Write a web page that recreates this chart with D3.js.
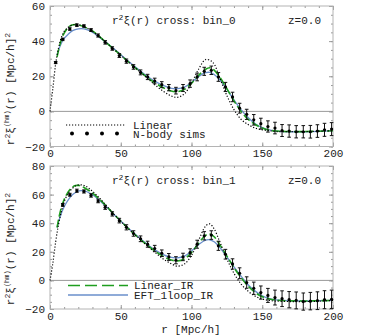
<!DOCTYPE html>
<html>
<head>
<meta charset="utf-8">
<script src="https://cdn.jsdelivr.net/npm/d3@7"></script>
<style>
  body { margin: 0; background: #fff; }
  text { font-family: "Liberation Mono", "DejaVu Sans Mono", monospace; fill: #222; }
</style>
</head>
<body>
<script>
// N-body measurements, bin_0 (r, value, error)
var bin0R = [4, 9, 14, 19, 24, 29, 34, 39, 44, 49, 54, 59, 64, 69, 74, 79, 84, 89, 94, 99,
             104, 109, 114, 119, 124, 129, 134, 139, 144, 149, 154, 159, 164, 169, 174, 179, 184, 189, 194, 199];
var bin0Sims = [27.8, 41, 46.9, 49.1, 48.6, 46.3, 43.2, 39.3, 35.8, 31.8, 28.6, 25.3, 22.2, 19.6, 17.3, 15.2, 13.5, 11.8, 13.3, 15.8,
                19.6, 22.8, 23.4, 19.6, 13.9, 8.2, 1.8, -1.7, -4.8, -7.0, -8.6, -9.5, -10.9, -11.2, -11.6, -11.6, -11.6, -11.2, -10.5, -10.1];
var bin0Err = [0.6, 0.7, 0.7, 0.7, 0.7, 0.8, 0.9, 1.0, 1.0, 1.1, 1.2, 1.3, 1.4, 1.5, 1.6, 1.7, 1.8, 1.9, 2.0, 2.1,
               2.2, 2.3, 2.4, 2.5, 2.6, 2.7, 2.8, 2.9, 3.0, 3.1, 3.2, 3.3, 3.4, 3.5, 3.5, 3.5, 3.6, 3.6, 3.7, 3.7];

// N-body measurements, bin_1
var bin1R = [9, 14, 19, 24, 29, 34, 39, 44, 49, 54, 59, 64, 69, 74, 79, 84, 89, 94, 99,
             104, 109, 114, 119, 124, 129, 134, 139, 144, 149, 154, 159, 164, 169, 174, 179, 184, 189, 194, 199];
var bin1Sims = [52.8, 59.9, 62.7, 62.2, 59.4, 55.6, 51.1, 46.5, 41.8, 37.1, 32.8, 29.1, 25.3, 22.3, 19.0, 16.4, 14.1, 16.4, 19.4,
                25.3, 31.2, 31.7, 24.2, 18.3, 11.5, 5.0, -1.5, -5.5, -8.5, -10.5, -12, -12.8, -13.5, -14, -14.8, -14.5, -14.2, -13.5, -13.2];
var bin1Err = [1.0, 1.0, 1.1, 1.1, 1.2, 1.3, 1.4, 1.5, 1.6, 1.8, 1.9, 2.0, 2.1, 2.2, 2.3, 2.4, 2.5, 2.6, 2.7,
               2.8, 2.9, 3.0, 3.2, 3.4, 3.6, 3.8, 4.0, 4.3, 4.6, 4.9, 5.2, 5.5, 5.7, 5.9, 6.0, 6.1, 6.2, 6.3, 6.4];

// model curves as [r, r^2 xi] pairs
var bin0Linear = [[0, 0], [2, 13], [4, 27], [6, 36], [8, 42], [10, 45.5], [14, 48.5], [18, 49.5], [22, 49], [26, 47.5],
  [30, 45.5], [35, 42.5], [40, 39], [45, 35.5], [50, 32], [55, 28.5], [60, 25], [65, 21.5], [70, 18], [75, 14.5],
  [80, 11.5], [85, 9], [90, 8], [95, 10], [100, 16], [105, 24], [110, 29.5], [115, 28], [120, 19], [125, 9],
  [130, 1], [135, -4.5], [140, -7.5], [145, -9.5], [150, -10.5], [155, -11], [160, -11.5], [170, -11.5], [180, -11.5], [190, -11.3], [200, -11]];
var bin0LinearIR = [[5, 31], [7, 38], [9, 43], [12, 47], [15, 49], [18, 49.5], [21, 49], [25, 47.8], [30, 45.8], [35, 42.6],
  [40, 39], [45, 35.5], [50, 32], [55, 28.5], [60, 25], [65, 21.7], [70, 18.5], [75, 15.8], [80, 13.5], [85, 11.8],
  [90, 11.2], [95, 12.5], [100, 16], [105, 20.5], [110, 24], [113, 24.8], [116, 23.5], [120, 19.5], [125, 13], [130, 6],
  [135, 0], [140, -4.5], [145, -7.5], [150, -9.5], [155, -10.7], [160, -11.2], [170, -11.5], [180, -11.5], [190, -11.3], [200, -11]];
var bin0Eft = [[5, 32], [7, 37], [10, 41.5], [13, 44], [16, 46], [20, 47], [24, 47], [28, 46], [32, 44], [36, 41.5],
  [40, 39], [45, 35.8], [50, 32.3], [55, 28.8], [60, 25.5], [65, 22.3], [70, 19.3], [75, 16.8], [80, 14.8], [85, 13.3],
  [90, 12.9], [95, 13.8], [100, 16.5], [105, 19.8], [110, 22], [113, 22.2], [116, 21], [120, 18], [125, 12.5], [130, 6.5],
  [135, 1], [140, -3.5], [145, -7], [150, -9.2], [155, -10.5], [160, -11.2], [170, -11.6], [180, -11.6], [190, -11.4], [200, -11]];

var bin1Linear = [[0, 0], [2, 12], [4, 27], [6, 39], [8, 48], [10, 55], [13, 61], [16, 64.5], [19, 66.5], [22, 66.8],
  [25, 66], [28, 64], [32, 60.5], [36, 56.5], [40, 52], [45, 46.5], [50, 41.5], [55, 36.5], [60, 32], [65, 27.5],
  [70, 23], [75, 19], [80, 15], [85, 12], [90, 10], [95, 11.5], [100, 17.5], [105, 28], [110, 38], [113, 39.5],
  [116, 36], [120, 27], [125, 15], [130, 5], [135, -2.5], [140, -7.5], [145, -11], [150, -13], [155, -14], [160, -14.5],
  [170, -14.8], [180, -14.8], [190, -14.5], [200, -14]];
var bin1LinearIR = [[5, 37], [7, 47], [9, 54], [12, 60.5], [15, 64.5], [18, 66.3], [21, 66.3], [24, 65], [28, 62.5], [32, 59.5],
  [36, 55.8], [40, 51.8], [45, 46.5], [50, 41.5], [55, 36.5], [60, 32], [65, 27.7], [70, 23.7], [75, 20], [80, 16.8],
  [85, 14.5], [90, 13.6], [95, 15], [100, 19.5], [105, 26], [110, 31.5], [113, 32.4], [116, 30.5], [120, 25], [125, 17],
  [130, 9], [135, 2], [140, -4], [145, -8.5], [150, -11.5], [155, -13], [160, -13.8], [170, -14.3], [180, -14.4], [190, -14.2], [200, -14]];
var bin1Eft = [[5, 37], [7, 44], [10, 51.5], [13, 56.5], [16, 60], [19, 62], [22, 62.8], [25, 62.4], [28, 61], [32, 58.5],
  [36, 55], [40, 51.3], [45, 46.3], [50, 41.5], [55, 36.8], [60, 32.4], [65, 28.2], [70, 24.3], [75, 20.8], [80, 18],
  [85, 16.2], [90, 15.8], [95, 17], [100, 20.5], [105, 25], [110, 28.2], [113, 28.4], [116, 27], [120, 23], [125, 16.5],
  [130, 9.5], [135, 3], [140, -3], [145, -7.5], [150, -10.8], [155, -12.7], [160, -13.6], [170, -14.2], [180, -14.4], [190, -14.2], [200, -14]];

var xTicks = [0, 50, 100, 150, 200];
var bin0YTicks = [-20, 0, 20, 40, 60];
var bin1YTicks = [-20, 0, 20, 40, 60, 80];

var green = "#1f9e1f", blue = "#6a8fcb", frameColor = "#b4b4b4";

var svg = d3.select("body").append("svg")
    .attr("width", 366)
    .attr("height", 336);

var x = d3.scaleLinear().domain([0, 200]).range([50, 333]);

function drawPanel(cfg) {
  var y = d3.scaleLinear().domain(cfg.yDomain).range(cfg.yRange);
  var g = svg.append("g");
  var top = cfg.yRange[1], bottom = cfg.yRange[0];

  // minor ticks on all sides
  var xMinor = d3.range(0, 201, 10), yMinor = d3.range(cfg.yDomain[0], cfg.yDomain[1] + 1, 5);
  [[d3.axisBottom(x).tickValues(xMinor), bottom, 0, -2], [d3.axisTop(x).tickValues(xMinor), top, 0, -2],
   [d3.axisLeft(y).tickValues(yMinor), 0, 50, -2], [d3.axisRight(y).tickValues(yMinor), 0, 333, -2],
   [d3.axisTop(x).tickValues(xTicks), top, 0, -4], [d3.axisRight(y).tickValues(cfg.yTicks), 0, 333, -4]]
    .forEach(function(a) {
      g.append("g")
          .attr("transform", "translate(" + a[2] + "," + a[1] + ")")
          .call(a[0].tickSize(a[3]).tickFormat(""))
          .call(function(s) { s.select(".domain").remove(); s.selectAll("line").attr("stroke", "#999"); });
    });

  // labelled axes
  g.append("g")
      .attr("transform", "translate(0," + bottom + ")")
      .call(d3.axisBottom(x).tickValues(xTicks).tickSize(-4).tickPadding(3))
      .call(function(s) {
        s.select(".domain").remove();
        s.selectAll("line").attr("stroke", "#999");
        s.selectAll("text").style("font-size", "11px").attr("fill", "#222");
      });
  g.append("g")
      .attr("transform", "translate(50,0)")
      .call(d3.axisLeft(y).tickValues(cfg.yTicks).tickSize(-4).tickPadding(5))
      .call(function(s) {
        s.select(".domain").remove();
        s.selectAll("line").attr("stroke", "#999");
        s.selectAll("text").style("font-size", "11px").attr("fill", "#222");
      });

  // frame and zero line
  g.append("rect")
      .attr("x", 50).attr("y", top)
      .attr("width", 283).attr("height", bottom - top)
      .attr("fill", "none").attr("stroke", frameColor);
  g.append("line")
      .attr("x1", 50).attr("x2", 333)
      .attr("y1", y(0)).attr("y2", y(0))
      .attr("stroke", "#999").attr("stroke-width", 1);

  var line = d3.line()
      .x(function(d) { return x(d[0]); })
      .y(function(d) { return y(d[1]); })
      .curve(d3.curveCatmullRom.alpha(0.5));

  g.append("path").datum(cfg.eft).attr("d", line)
      .attr("fill", "none").attr("stroke", blue).attr("stroke-width", 1.3);
  g.append("path").datum(cfg.linearIR).attr("d", line)
      .attr("fill", "none").attr("stroke", green).attr("stroke-width", 1.6)
      .attr("stroke-dasharray", "8,3");
  g.append("path").datum(cfg.linear).attr("d", line)
      .attr("fill", "none").attr("stroke", "#000").attr("stroke-width", 1.2)
      .attr("stroke-dasharray", "1.2,1.8");

  // sims with error bars
  var pts = cfg.r.map(function(r, i) { return {r: r, v: cfg.sims[i], e: cfg.err[i]}; });
  var bars = g.selectAll(".bar").data(pts).enter().append("g").attr("class", "bar")
      .attr("stroke", "#111").attr("stroke-width", 1);
  bars.append("line")
      .attr("x1", function(d) { return x(d.r); }).attr("x2", function(d) { return x(d.r); })
      .attr("y1", function(d) { return y(d.v - d.e); }).attr("y2", function(d) { return y(d.v + d.e); });
  bars.append("line")
      .attr("x1", function(d) { return x(d.r) - 1.8; }).attr("x2", function(d) { return x(d.r) + 1.8; })
      .attr("y1", function(d) { return y(d.v - d.e); }).attr("y2", function(d) { return y(d.v - d.e); });
  bars.append("line")
      .attr("x1", function(d) { return x(d.r) - 1.8; }).attr("x2", function(d) { return x(d.r) + 1.8; })
      .attr("y1", function(d) { return y(d.v + d.e); }).attr("y2", function(d) { return y(d.v + d.e); });
  g.selectAll(".dot").data(pts).enter().append("circle")
      .attr("class", "dot")
      .attr("cx", function(d) { return x(d.r); })
      .attr("cy", function(d) { return y(d.v); })
      .attr("r", 1.6).attr("fill", "#000");

  // title inside the frame
  var t = g.append("text").attr("x", 112).attr("y", top + 18).style("font-size", "11px");
  t.append("tspan").text("r");
  t.append("tspan").attr("dy", -4).style("font-size", "8px").text("2");
  t.append("tspan").attr("dy", 4).text("\u03be(r) cross: " + cfg.bin);
  g.append("text").attr("x", 288).attr("y", top + 18).style("font-size", "11px").text("z=0.0");

  // y label
  var yl = g.append("text")
      .attr("transform", "translate(14," + cfg.labelY + ") rotate(-90)")
      .attr("text-anchor", "middle").style("font-size", "11px");
  yl.append("tspan").text("r");
  yl.append("tspan").attr("dy", -4).style("font-size", "8px").text("2");
  yl.append("tspan").attr("dy", 4).text("\u03be");
  yl.append("tspan").attr("dy", -5).style("font-size", "7px").text("(hm)");
  yl.append("tspan").attr("dy", 5).text("(r)  [Mpc/h]");
  yl.append("tspan").attr("dy", -4).style("font-size", "8px").text("2");

  return g;
}

var g0 = drawPanel({yDomain: [-20, 60], yRange: [146.5, 6], yTicks: bin0YTicks, bin: "bin_0", labelY: 89,
  r: bin0R, sims: bin0Sims, err: bin0Err, linear: bin0Linear, linearIR: bin0LinearIR, eft: bin0Eft});
var g1 = drawPanel({yDomain: [-20, 80], yRange: [309, 166], yTicks: bin1YTicks, bin: "bin_1", labelY: 249,
  r: bin1R, sims: bin1Sims, err: bin1Err, linear: bin1Linear, linearIR: bin1LinearIR, eft: bin1Eft});

// legend, top panel
g0.append("line").attr("x1", 66).attr("x2", 126).attr("y1", 125).attr("y2", 125)
    .attr("stroke", "#000").attr("stroke-width", 1.2).attr("stroke-dasharray", "1.2,1.8");
g0.append("text").attr("x", 133).attr("y", 129).style("font-size", "11px").text("Linear");
g0.selectAll(".legdot").data([72, 87, 102, 117]).enter().append("circle")
    .attr("cx", function(d) { return d; }).attr("cy", 133.5).attr("r", 2).attr("fill", "#000");
g0.append("text").attr("x", 133).attr("y", 137.5).style("font-size", "11px").text("N-body sims");

// legend, bottom panel
g1.append("line").attr("x1", 68).attr("x2", 128).attr("y1", 285.5).attr("y2", 285.5)
    .attr("stroke", green).attr("stroke-width", 1.6).attr("stroke-dasharray", "12,5");
g1.append("text").attr("x", 134).attr("y", 289).style("font-size", "11px").text("Linear_IR");
g1.append("line").attr("x1", 68).attr("x2", 128).attr("y1", 295).attr("y2", 295)
    .attr("stroke", blue).attr("stroke-width", 1.3);
g1.append("text").attr("x", 134).attr("y", 298.5).style("font-size", "11px").text("EFT_1loop_IR");

// x label
svg.append("text").attr("x", 191).attr("y", 333).attr("text-anchor", "middle")
    .style("font-size", "11px").text("r  [Mpc/h]");
</script>
</body>
</html>
